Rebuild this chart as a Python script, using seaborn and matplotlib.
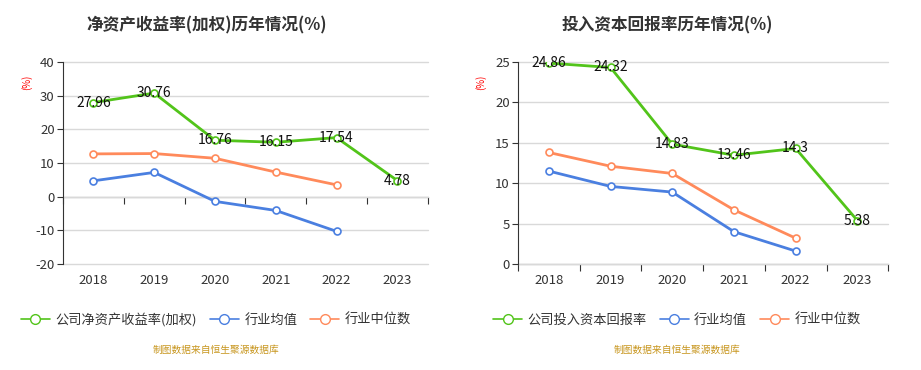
import matplotlib
matplotlib.use("Agg")
import matplotlib.pyplot as plt
from matplotlib.lines import Line2D
import numpy as np
import pandas as pd
import seaborn as sns

# --- data ---
YEARS = ["2018", "2019", "2020", "2021", "2022", "2023"]

ROE_COMPANY = [27.96, 30.76, 16.76, 16.15, 17.54, 4.78]
ROE_IND_MEAN = [4.7, 7.2, -1.4, -4.1, -10.3, np.nan]
ROE_IND_MEDIAN = [12.7, 12.8, 11.4, 7.3, 3.5, np.nan]

ROIC_COMPANY = [24.86, 24.32, 14.83, 13.46, 14.3, 5.38]
ROIC_IND_MEAN = [11.5, 9.6, 8.9, 4.0, 1.6, np.nan]
ROIC_IND_MEDIAN = [13.8, 12.1, 11.2, 6.7, 3.2, np.nan]

LEFT_TITLE = "净资产收益率(加权)历年情况(%)"
RIGHT_TITLE = "投入资本回报率历年情况(%)"
LEFT_NAMES = ["公司净资产收益率(加权)", "行业均值", "行业中位数"]
RIGHT_NAMES = ["公司投入资本回报率", "行业均值", "行业中位数"]
SOURCE = "制图数据来自恒生聚源数据库"

COLORS = ["#52C41A", "#4A7FE0", "#FF8A5B"]

sns.set_theme(style="white")
plt.rcParams["font.family"] = ["Noto Sans CJK SC", "DejaVu Sans"]
plt.rcParams["axes.unicode_minus"] = False


def draw(fig, ax, series, names, title, ylim, yticks, zero_frac, xc):
    frames = []
    for vals, name in zip(series, names):
        frames.append(pd.DataFrame({"year": YEARS, "value": vals, "series": name}))
    df = pd.concat(frames, ignore_index=True).dropna()
    df["x"] = df["year"].map({y: i for i, y in enumerate(YEARS)})

    sns.lineplot(data=df, x="x", y="value", hue="series", hue_order=names,
                 palette=COLORS, marker="o", markersize=5, markerfacecolor="white",
                 markeredgewidth=1.2, linewidth=2, legend=False, ax=ax)
    for line, c in zip(ax.get_lines(), COLORS):
        line.set_markeredgecolor(c)

    comp = df[df["series"] == names[0]]
    for x, v in zip(comp["x"], comp["value"]):
        ax.text(x, v, f"{v:g}", ha="center", va="center", fontsize=10, color="#111111")

    ax.set_xlim(-0.5, len(YEARS) - 0.5)
    ax.set_ylim(*ylim)
    ax.set_yticks(yticks)
    ax.set_yticklabels([str(t) for t in yticks], fontsize=9.5, color="#333333")
    ax.set_xticks(range(len(YEARS)))
    ax.set_xticklabels(YEARS, fontsize=9.5, color="#333333")
    ax.tick_params(axis="x", length=0, pad=7)
    ax.tick_params(axis="y", length=4, width=0.8, color="#333333", left=True, pad=2)
    ax.yaxis.grid(True, color="#D9D9D9", linewidth=1)
    for gl in ax.get_ygridlines():
        gl.set_clip_on(False)
    ax.set_axisbelow(True)
    ax.set_xlabel("")
    ax.set_ylabel("")
    for s in ["top", "right", "bottom"]:
        ax.spines[s].set_visible(False)
    ax.spines["left"].set_color("#333333")
    ax.spines["left"].set_linewidth(0.8)

    # x axis line at value 0 with boundary ticks
    sec = ax.secondary_xaxis(zero_frac)
    sec.set_xticks(np.arange(-0.5, len(YEARS)))
    sec.set_xticklabels([])
    sec.tick_params(axis="x", direction="out", length=5, width=0.8, color="#333333")
    sec.spines["bottom"].set_color("#333333")
    sec.spines["bottom"].set_linewidth(0.8)

    fig.text(xc - 0.01, 0.932, title, ha="center", va="center", fontsize=12,
             fontweight="bold", color="#333333")
    ax.text(-0.1, 0.9, "(%)", transform=ax.transAxes, rotation=90, fontsize=7,
            color="red", ha="center", va="center")

    handles = [Line2D([0], [0], color=c, linewidth=1.2, marker="o", markersize=7,
                      markerfacecolor="white", markeredgecolor=c) for c in COLORS]
    fig.legend(handles, names, loc="center", bbox_to_anchor=(xc, 0.135),
               ncol=3, frameon=False, fontsize=9.5, handlelength=2.2,
               handletextpad=0.4, columnspacing=1.0, labelcolor="#333333")
    fig.text(xc, 0.054, SOURCE, ha="center", va="center", fontsize=7, color="#C8961E")


fig = plt.figure(figsize=(9.21, 3.70), dpi=100)
ax1 = fig.add_axes([0.0684, 0.2865, 0.396, 0.546])
ax2 = fig.add_axes([0.5624, 0.2865, 0.402, 0.546])

draw(fig, ax1, [ROE_COMPANY, ROE_IND_MEAN, ROE_IND_MEDIAN], LEFT_NAMES, LEFT_TITLE,
     (-20, 40), [-20, -10, 0, 10, 20, 30, 40], 1 / 3, 0.2345)
draw(fig, ax2, [ROIC_COMPANY, ROIC_IND_MEAN, ROIC_IND_MEDIAN], RIGHT_NAMES, RIGHT_TITLE,
     (0, 25), [0, 5, 10, 15, 20, 25], 0.0, 0.735)

fig.savefig("out.png", dpi=100)
